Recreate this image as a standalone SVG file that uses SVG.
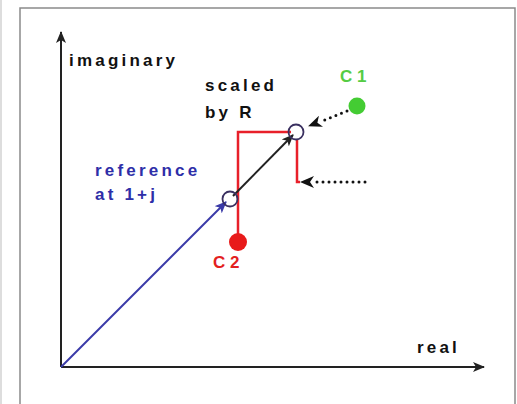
<svg xmlns="http://www.w3.org/2000/svg" width="517" height="404" viewBox="0 0 517 404">
<defs>
<style>
.lbl{font-family:"Liberation Sans",Arial,sans-serif;font-weight:bold;font-size:17px;letter-spacing:3.2px}
.cl{font-family:"Liberation Sans",Arial,sans-serif;font-weight:bold;font-size:17px;letter-spacing:0px}
.frame{fill:none;stroke:#8a8a8a;stroke-width:1.5}
.axis{stroke:#222;stroke-width:2;fill:none}
.red{stroke:#e8202a;stroke-width:2.5;fill:none}
.dots{stroke:#111;stroke-width:3;stroke-linecap:round;stroke-dasharray:0 6;fill:none}
.ring{fill:none;stroke:#3a3060;stroke-width:1.8}
</style>
<marker id="ah" viewBox="0 0 12 10" refX="11" refY="5" markerWidth="12" markerHeight="10" markerUnits="userSpaceOnUse" orient="auto">
<path d="M0,0 L12,5 L0,10 L3,5 Z" fill="#222"/>
</marker>
<marker id="ahb" viewBox="0 0 12 10" refX="11" refY="5" markerWidth="12" markerHeight="10" markerUnits="userSpaceOnUse" orient="auto">
<path d="M0,0 L12,5 L0,10 L3,5 Z" fill="#3a3aa8"/>
</marker>
<marker id="ahd" viewBox="0 0 14 12" refX="13" refY="6" markerWidth="14" markerHeight="12" markerUnits="userSpaceOnUse" orient="auto">
<path d="M0,0 L14,6 L0,12 L4,6 Z" fill="#111"/>
</marker>
</defs>
<rect width="517" height="404" fill="#fff"/>
<g id="frame">
<path class="frame" d="M20,404 L20,8 L515,8 L515,404"/>
<line x1="1" y1="0" x2="1" y2="404" stroke="#bbb" stroke-width="1"/>
</g>
<g id="connectors">
<line class="axis" x1="61" y1="367" x2="61" y2="32" marker-end="url(#ah)"/>
<line class="axis" x1="61" y1="367" x2="484" y2="367" marker-end="url(#ah)"/>
<line x1="61" y1="367" x2="226" y2="202" stroke="#3a3aa8" stroke-width="2" marker-end="url(#ahb)"/>
<path class="red" d="M238,234 L238,132 L291,132"/>
<path class="red" d="M297,139 L297,182 L300,182"/>
<line x1="233" y1="196" x2="293" y2="135" stroke="#222" stroke-width="2" marker-end="url(#ah)"/>
<line class="dots" x1="347" y1="111" x2="320" y2="122"/>
<line x1="318" y1="122.5" x2="309" y2="126" stroke="none" marker-end="url(#ahd)"/>
<line class="dots" x1="365" y1="182" x2="315" y2="182"/>
<line x1="312" y1="182" x2="301" y2="182" stroke="none" marker-end="url(#ahd)"/>
</g>
<g id="ring-lower"><circle class="ring" cx="230" cy="199" r="7.5"/></g>
<g id="ring-upper"><circle class="ring" cx="296" cy="132" r="7.5"/></g>
<g id="c1">
<circle cx="357" cy="106" r="8.5" fill="#44cc33"/>
<text class="cl" x="340" y="82" fill="#55cc44">C 1</text>
</g>
<g id="c2">
<circle cx="238" cy="242" r="9" fill="#e81a1a"/>
<text class="cl" x="213" y="268" fill="#e32020">C 2</text>
</g>
<g id="labels">
<text class="lbl" x="69" y="66" fill="#111">imaginary</text>
<text class="lbl" x="205" y="91" fill="#111">scaled</text>
<text class="lbl" x="205" y="118" fill="#111">by R</text>
<text class="lbl" x="95" y="176" fill="#2e2ea8">reference</text>
<text class="lbl" x="95" y="200" fill="#2e2ea8">at 1+j</text>
<text class="lbl" x="417" y="353" fill="#111">real</text>
</g>
</svg>
